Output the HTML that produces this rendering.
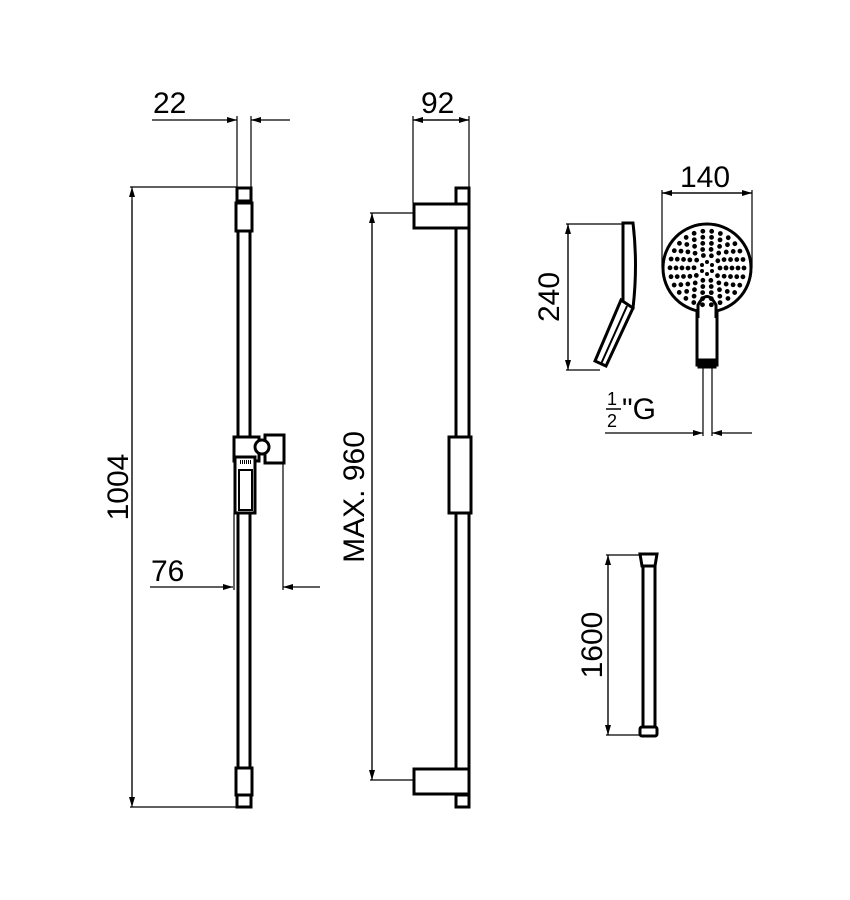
<!DOCTYPE html>
<html><head><meta charset="utf-8"><style>body{margin:0;background:#fff}svg{display:block}</style></head>
<body>
<svg width="850" height="900" viewBox="0 0 850 900" xmlns="http://www.w3.org/2000/svg" font-family="Liberation Sans, sans-serif">
<defs>
<marker id="a" viewBox="0 0 10 6" refX="10" refY="3" markerWidth="12" markerHeight="6" markerUnits="userSpaceOnUse" orient="auto"><path d="M0,0L10,3L0,6z" fill="#000"/></marker>
</defs>
<g stroke="#000" stroke-width="1.2" fill="none">
<line x1="237" y1="116" x2="237" y2="187"/><line x1="251" y1="116" x2="251" y2="187"/>
<line x1="152" y1="120" x2="237" y2="120" marker-end="url(#a)"/>
<line x1="290" y1="120" x2="251" y2="120" marker-end="url(#a)"/>
<line x1="130" y1="187" x2="237" y2="187"/><line x1="130" y1="807" x2="237" y2="807"/>
<line x1="132" y1="800" x2="132" y2="187" marker-end="url(#a)"/>
<line x1="132" y1="200" x2="132" y2="807" marker-end="url(#a)"/>
<line x1="283" y1="463" x2="283" y2="590"/>
<line x1="150" y1="587" x2="233" y2="587" marker-end="url(#a)"/>
<line x1="320" y1="587" x2="283" y2="587" marker-end="url(#a)"/>
<line x1="234" y1="513" x2="234" y2="590"/>
<line x1="413" y1="116" x2="413" y2="203"/><line x1="469" y1="116" x2="469" y2="187"/>
<line x1="413" y1="120" x2="469" y2="120" marker-end="url(#a)"/>
<line x1="469" y1="120" x2="413" y2="120" marker-end="url(#a)"/>
<line x1="370" y1="213" x2="413" y2="213"/><line x1="370" y1="780" x2="413" y2="780"/>
<line x1="372" y1="780" x2="372" y2="213" marker-end="url(#a)"/>
<line x1="372" y1="213" x2="372" y2="780" marker-end="url(#a)"/>
<line x1="662" y1="190" x2="662" y2="268"/><line x1="752" y1="190" x2="752" y2="268"/>
<line x1="662" y1="193" x2="752" y2="193" marker-end="url(#a)"/>
<line x1="752" y1="193" x2="662" y2="193" marker-end="url(#a)"/>
<line x1="566" y1="224" x2="625" y2="224"/><line x1="566" y1="370" x2="600" y2="370"/>
<line x1="568" y1="370" x2="568" y2="224" marker-end="url(#a)"/>
<line x1="568" y1="224" x2="568" y2="370" marker-end="url(#a)"/>
<line x1="703" y1="365" x2="703" y2="436"/><line x1="712" y1="365" x2="712" y2="436"/>
<line x1="605" y1="433" x2="703" y2="433" marker-end="url(#a)"/>
<line x1="752" y1="433" x2="712" y2="433" marker-end="url(#a)"/>
<line x1="606" y1="555" x2="645" y2="555"/><line x1="606" y1="735" x2="645" y2="735"/>
<line x1="608" y1="735" x2="608" y2="555" marker-end="url(#a)"/>
<line x1="608" y1="555" x2="608" y2="735" marker-end="url(#a)"/>
</g>
<g stroke="#000" stroke-width="3" fill="#fff">
<rect x="238" y="200" width="12" height="570"/>
<rect x="237" y="188" width="14" height="13"/>
<rect x="236" y="203" width="16" height="28"/>
<rect x="236" y="768" width="16" height="27"/>
<rect x="237" y="795" width="14" height="12"/>
<rect x="234" y="437" width="25" height="24"/>
<rect x="265" y="435" width="19" height="28"/>
<circle cx="262" cy="447" r="7"/>
<rect x="235" y="457" width="20" height="56"/>
<rect x="239" y="470" width="13" height="40" stroke-width="2"/>
<line x1="240" y1="462" x2="252" y2="462" stroke-width="4" stroke-dasharray="1 1"/>
<rect x="456" y="188" width="13" height="610"/>
<rect x="456" y="795" width="13" height="12"/>
<rect x="414" y="204" width="55" height="24"/>
<rect x="414" y="769" width="55" height="25"/>
<rect x="449" y="437" width="22" height="76"/>
<path d="M623 223 L633 223 Q638 265 633 308 L623 308 Z"/>
<path d="M621 300 L633 308 L606 366 L595 361 Z"/>
<line x1="627" y1="306" x2="601" y2="364" stroke-width="2"/>
<rect x="697" y="300" width="20" height="65"/>
<circle cx="707" cy="268" r="44"/>
<path d="M698 318 L698 305 Q707 288 716 305 L716 318" />
<rect x="699" y="360" width="16" height="7" fill="#000"/>
<rect x="643" y="560" width="12" height="170"/>
<path d="M640 554 L657 554 L655 566 L642 566 Z"/>
<rect x="640" y="727" width="17" height="9" rx="2"/>
</g>
<g fill="none" stroke="#000" stroke-linecap="round" stroke-width="4.8">
<circle cx="707" cy="268" r="13" stroke-dasharray="0 8.17"/>
<circle cx="707" cy="268" r="19" stroke-dasharray="0 8.5"/>
<circle cx="707" cy="268" r="25" stroke-dasharray="0 8.72"/>
<circle cx="707" cy="268" r="31" stroke-dasharray="0 8.85"/>
<circle cx="707" cy="268" r="37" stroke-dasharray="0 8.94"/>
</g>
<g fill="#000">
<circle cx="707" cy="262" r="2"/><circle cx="712" cy="265" r="2"/><circle cx="712" cy="271" r="2"/><circle cx="707" cy="274" r="2"/><circle cx="702" cy="271" r="2"/><circle cx="702" cy="265" r="2"/>
</g>
<g font-size="30" fill="#000">
<text x="153" y="113">22</text>
<text x="421" y="113">92</text>
<text x="680" y="187">140</text>
<text x="151" y="581">76</text>
<text transform="translate(128,487) rotate(-90)" text-anchor="middle">1004</text>
<text transform="translate(364,497) rotate(-90)" text-anchor="middle">MAX. 960</text>
<text transform="translate(559,297) rotate(-90)" text-anchor="middle">240</text>
<text transform="translate(602,645) rotate(-90)" text-anchor="middle">1600</text>
<text x="622" y="419">"G</text>
<text x="607" y="405" font-size="18">1</text>
<text x="607" y="427" font-size="18">2</text>
</g>
<line x1="606" y1="409" x2="621" y2="409" stroke="#000" stroke-width="1.5"/>
</svg>
</body></html>
